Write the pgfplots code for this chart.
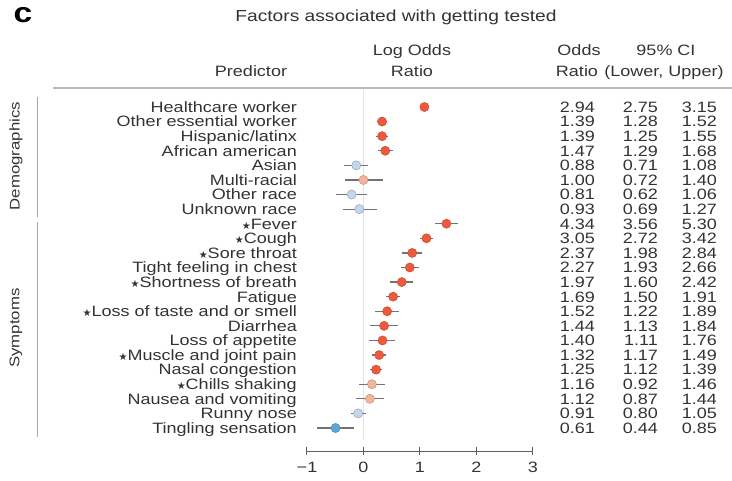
\documentclass[border=0pt]{standalone}
\usepackage{fontspec}
\setmainfont[FakeStretch=1.2]{Liberation Sans}
\newfontfamily\starfont{DejaVu Sans}
\usepackage{pgfplots}
\usepackage{pgfplotstable}
\pgfplotsset{compat=1.18}
\definecolor{txt}{HTML}{333333}
\definecolor{redF}{HTML}{EB5A3C}
\definecolor{redD}{HTML}{C8442A}
\definecolor{salF}{HTML}{F4B49C}
\definecolor{salD}{HTML}{B98C7E}
\definecolor{lbF}{HTML}{C4D6EC}
\definecolor{lbD}{HTML}{8A9BB0}
\definecolor{bF}{HTML}{5DA5D8}
\definecolor{bD}{HTML}{3F7FB0}
\newcommand{\st}{{\starfont\fontsize{10}{10}\selectfont ★}}

\pgfplotstableread{
k or lo hi cls
1 2.94 2.75 3.15 r
2 1.39 1.28 1.52 r
3 1.39 1.25 1.55 r
4 1.47 1.29 1.68 r
5 0.88 0.71 1.08 l
6 1.00 0.72 1.40 s
7 0.81 0.62 1.06 l
8 0.93 0.69 1.27 l
9 4.34 3.56 5.30 r
10 3.05 2.72 3.42 r
11 2.37 1.98 2.84 r
12 2.27 1.93 2.66 r
13 1.97 1.60 2.42 r
14 1.69 1.50 1.91 r
15 1.52 1.22 1.89 r
16 1.44 1.13 1.84 r
17 1.40 1.11 1.76 r
18 1.32 1.17 1.49 r
19 1.25 1.12 1.39 r
20 1.16 0.92 1.46 s
21 1.12 0.87 1.44 s
22 0.91 0.80 1.05 l
23 0.61 0.44 0.85 b
}\datatab

\begin{document}
\begin{tikzpicture}[every node/.style={text=txt}, hdr/.style={text height=10.7pt, text depth=3pt, inner sep=0pt}]
\fontsize{15}{17}\selectfont
% title and headers
\node[font=\bfseries\fontsize{28}{28}\selectfont, text=black, inner sep=0pt] at (23pt,-15pt) {c};
\node[hdr, font=\fontsize{16}{16}\selectfont] at (396pt,-18pt) {Factors associated with getting tested};
\node[hdr] at (251pt,-73pt) {Predictor};
\node[hdr] at (412pt,-52pt) {Log Odds};
\node[hdr] at (412pt,-73pt) {Ratio};
\node[hdr] at (579pt,-52pt) {Odds};
\node[hdr] at (577pt,-73pt) {Ratio};
\node[hdr] at (666pt,-52pt) {95\% CI};
\node[hdr] at (664pt,-73pt) {(Lower, Upper)};
\draw[gray!55, line width=2pt] (53pt,-88pt) -- (732pt,-88pt);
% groups
\draw[gray!70, line width=1pt] (37pt,-97pt) -- (37pt,-217pt);
\draw[gray!70, line width=1pt] (37pt,-222pt) -- (37pt,-437pt);
\node[rotate=90, font=\fontsize{14}{14}\selectfont] at (16pt,-156pt) {Demographics};
\node[rotate=90, font=\fontsize{14}{14}\selectfont] at (16pt,-328pt) {Symptoms};
% numbers
\pgfplotstableforeachcolumnelement{or}\of\datatab\as\cell{%
  \node[anchor=east, inner sep=0pt, text height=10.7pt, text depth=0pt] at (595pt,{-107pt-\pgfplotstablerow*14.59pt}) {\cell};}
\pgfplotstableforeachcolumnelement{lo}\of\datatab\as\cell{%
  \node[anchor=east, inner sep=0pt, text height=10.7pt, text depth=0pt] at (658pt,{-107pt-\pgfplotstablerow*14.59pt}) {\cell};}
\pgfplotstableforeachcolumnelement{hi}\of\datatab\as\cell{%
  \node[anchor=east, inner sep=0pt, text height=10.7pt, text depth=0pt] at (717pt,{-107pt-\pgfplotstablerow*14.59pt}) {\cell};}
\begin{axis}[
  at={(307pt,-451pt)}, anchor=south west,
  scale only axis, width=226pt, height=361pt,
  xmin=-1, xmax=3, ymin=-0.576, ymax=24.165,
  axis x line*=bottom, axis y line*=left,
  x axis line style={-, gray!75!black, line width=1pt},
  y axis line style={draw=none},
  xtick={-1,0,1,2,3}, xticklabels={−1,0,1,2,3},
  xtick align=center, major tick length=8pt,
  xtick style={gray!75!black, line width=1pt},
  xticklabel style={font=\fontsize{15}{15}\selectfont, yshift=-2pt},
  ytick={23,22,...,1}, ytick style={draw=none},
  yticklabels={Healthcare worker, Other essential worker, Hispanic/latinx, African american, Asian, Multi-racial, Other race, Unknown race, \st Fever, \st Cough, \st Sore throat, Tight feeling in chest, \st Shortness of breath, Fatigue, \st Loss of taste and or smell, Diarrhea, Loss of appetite, \st Muscle and joint pain, Nasal congestion, \st Chills shaking, Nausea and vomiting, Runny nose, Tingling sensation},
  yticklabel style={font=\fontsize{15}{15}\selectfont, anchor=east, inner sep=0pt, xshift=-10pt, text height=10.7pt, text depth=0pt},
  clip=false,
  mark size=4.6pt,
]
\addplot[gray!20, line width=0.8pt] coordinates {(0,24.165) (0,0.18)};
\addplot[scatter, only marks, scatter src=explicit symbolic,
  scatter/classes={
    r={mark=*, draw=redD, fill=redF},
    s={mark=*, draw=salD, fill=salF},
    l={mark=*, draw=lbD, fill=lbF},
    b={mark=*, draw=bD, fill=bF}},
  error bars/.cd, x dir=both, x explicit,
  error mark=none,
  error bar style={black!55, line width=1.2pt}]
  table[x expr={ln(\thisrow{or})}, y expr={24-\thisrow{k}},
        x error plus expr={ln(\thisrow{hi})-ln(\thisrow{or})},
        x error minus expr={ln(\thisrow{or})-ln(\thisrow{lo})},
        meta=cls] {\datatab};
\end{axis}
\pgfresetboundingbox
\path[use as bounding box] (0pt,0pt) rectangle (732pt,-481pt);
\end{tikzpicture}
\end{document}
